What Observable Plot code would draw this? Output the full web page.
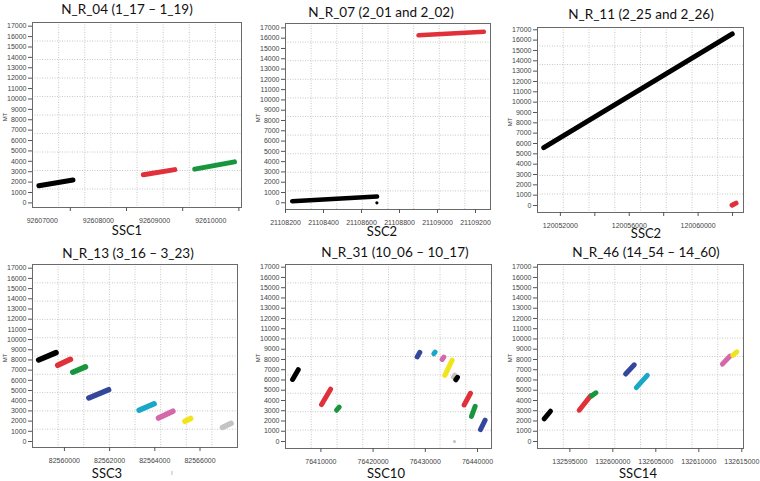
<!DOCTYPE html>
<html><head><meta charset="utf-8">
<script src="https://cdn.jsdelivr.net/npm/d3@7"></script>
<script src="https://cdn.jsdelivr.net/npm/@observablehq/plot@0.6"></script>
<style>
body{margin:0;background:#fff;}
#root{position:relative;width:760px;height:481px;overflow:hidden;font-family:Lato,"Open Sans",sans-serif;}
.pl{position:absolute;}
.ttl{position:absolute;font-size:13.5px;color:#111;white-space:nowrap;transform:translate(-50%,-50%);}
.xl{position:absolute;font-size:13px;color:#111;white-space:nowrap;transform:translate(-50%,-50%);}
.mt{position:absolute;font-family:"Liberation Sans",Arial,sans-serif;font-size:6px;color:#333;white-space:nowrap;transform:translate(-50%,-50%) rotate(-90deg);}
.art{position:absolute;font-size:7px;color:#999;}
</style></head>
<body><div id="root"></div>
<script>
// ---------- data ----------
const panelTitles = ["N_R_04 (1_17 \u2013 1_19)", "N_R_07 (2_01 and 2_02)", "N_R_11 (2_25 and 2_26)",
                     "N_R_13 (3_16 \u2013 3_23)", "N_R_31 (10_06 \u2013 10_17)", "N_R_46 (14_54 \u2013 14_60)"];
const chromosomeLabels = ["SSC1", "SSC2", "SSC2", "SSC3", "SSC10", "SSC14"];
const mtTicks = [0,1000,2000,3000,4000,5000,6000,7000,8000,9000,10000,11000,12000,13000,14000,15000,16000,17000];
const colourKeys = ["black","red","green","navy","cyan","pink","yellow","gray"];
const colourValues = ["#000000","#e0303a","#17963e","#34479a","#1aa8c8","#d468a8","#f2e41c","#c4c4c4"];

// segments: [ssc start, ssc end, mt start, mt end, colour]
const nr04Segments = [
  [92606941, 92607547, 1650, 2200, "black"],
  [92608800, 92609360, 2700, 3200, "red"],
  [92609715, 92610422, 3250, 3950, "green"]
];
const nr07Segments = [
  [21108235, 21108682, 150, 600, "black"],
  [21108900, 21109244, 16280, 16620, "red"]
];
const nr07Points = [[21108681, 0, "black"]];
const nr11Segments = [
  [120051035, 120061983, 5600, 16600, "black"],
  [120061970, 120062200, 30, 230, "red"]
];
const nr13Segments = [
  [82558860, 82559630, 8000, 8720, "black"],
  [82559704, 82560267, 7470, 8060, "red"],
  [82560370, 82560933, 6800, 7320, "green"],
  [82561081, 82561956, 4270, 5080, "navy"],
  [82563304, 82563970, 3070, 3700, "cyan"],
  [82564163, 82564800, 2300, 2970, "pink"],
  [82565333, 82565585, 1980, 2260, "yellow"],
  [82566993, 82567378, 1380, 1780, "gray"]
];
const nr31Segments = [
  [76404576, 76405660, 6050, 7000, "black"],
  [76410128, 76411850, 3600, 5100, "red"],
  [76413000, 76413510, 3050, 3350, "green"],
  [76428443, 76428953, 8250, 8700, "navy"],
  [76431634, 76431890, 8550, 8720, "cyan"],
  [76433230, 76433549, 8000, 8230, "pink"],
  [76433740, 76435143, 6450, 7930, "yellow"],
  [76435400, 76435650, 6270, 6470, "gray"],
  [76435845, 76436165, 6020, 6260, "black"],
  [76437440, 76438653, 3560, 4700, "red"],
  [76438845, 76439547, 2450, 3420, "green"],
  [76440568, 76441461, 1160, 2080, "navy"]
];
const nr31Points = [[76435590, 0, "gray"]];
const nr46Segments = [
  [132592010, 132592748, 2200, 2950, "black"],
  [132596087, 132597408, 3050, 4450, "red"],
  [132597524, 132598029, 4450, 4750, "green"],
  [132601485, 132602495, 6580, 7480, "navy"],
  [132602728, 132604010, 5260, 6450, "cyan"],
  [132612748, 132613641, 7550, 8330, "pink"],
  [132613951, 132614417, 8400, 8750, "yellow"]
];
const nr04TickLabels = [92607000, 92608000, 92609000, 92610000];
const nr04TickMarks  = [92607500, 92608500, 92609500, 92610500];
const nr07TickLabels = [21108200, 21108400, 21108600, 21108800, 21109000, 21109200];
const nr11TickLabels = [120052000, 120056000, 120060000];
const nr11TickMarks  = [120052000, 120054000, 120056000, 120058000, 120060000, 120062000];
const nr13TickLabels = [82560000, 82562000, 82564000, 82566000];
const nr31TickLabels = [76410000, 76420000, 76430000, 76440000];
const nr46TickLabels = [132595000, 132600000, 132605000, 132610000, 132615000];

// ---------- layout ----------
const colourOf = c => colourValues[colourKeys.indexOf(c)];
const toRows = segs => segs.map(([x1, x2, y1, y2, c]) => ({x1, x2, y1, y2, c}));
const toPts = pts => pts.map(([x, y, c]) => ({x, y, c}));
const panels = [
  {segs: nr04Segments, pts: [], labels: nr04TickLabels, marks: nr04TickMarks,
   fx: [32, 241], fy: [22, 207], xd: [92606827, 92610547], yd: [-443, 17356], t: [127, 9], xl: [127, 230], lw: 5},
  {segs: nr07Segments, pts: nr07Points, labels: nr07TickLabels, marks: nr07TickLabels,
   fx: [285, 490], fy: [23, 209], xd: [21108200, 21109279], yd: [-652, 17428], t: [381, 12], xl: [382, 231], lw: 4.5},
  {segs: nr11Segments, pts: [], labels: nr11TickLabels, marks: nr11TickMarks,
   fx: [537, 743], fy: [27, 212], xd: [120050671, 120062636], yd: [-677, 17222], t: [641, 14], xl: [646, 233], lw: 5},
  {segs: nr13Segments, pts: [], labels: nr13TickLabels, marks: nr13TickLabels,
   fx: [32, 237], fy: [264, 447], xd: [82558588, 82567659], yd: [-589, 17363], t: [128, 253], xl: [107, 473], lw: 5.5},
  {segs: nr31Segments, pts: nr31Points, labels: nr31TickLabels, marks: nr31TickLabels,
   fx: [285, 491], fy: [264, 448], xd: [76403218, 76442682], yd: [-683, 17263], t: [395, 252], xl: [386, 473], lw: 5},
  {segs: nr46Segments, pts: [], labels: nr46TickLabels, marks: nr46TickLabels,
   fx: [537, 743], fy: [264, 448], xd: [132591237, 132615198], yd: [-683, 17263], t: [646, 252], xl: [638, 473], lw: 5}
];

const root = document.getElementById("root");
const ML = 30, MR = 6, MT = 4, MB = 24;
const fmt = d => String(d);

panels.forEach((p, i) => {
  const w = p.fx[1] - p.fx[0], h = p.fy[1] - p.fy[0];
  const gx = d3.range(1, 8).map(k => p.xd[0] + (p.xd[1] - p.xd[0]) * k / 8);
  const gy = d3.range(1, 10).map(k => p.yd[0] + (p.yd[1] - p.yd[0]) * k / 10);
  const svg = Plot.plot({
    width: w + ML + MR, height: h + MT + MB,
    marginLeft: ML, marginRight: MR, marginTop: MT, marginBottom: MB,
    x: {domain: p.xd},
    y: {domain: p.yd},
    style: {fontFamily: "'Liberation Sans', Arial, sans-serif", fontSize: "7px", color: "#444", background: "transparent", overflow: "visible"},
    marks: [
      Plot.gridX(gx, {stroke: "#c8c8c8", strokeOpacity: 1, strokeDasharray: "1,1.5"}),
      Plot.gridY(gy, {stroke: "#c8c8c8", strokeOpacity: 1, strokeDasharray: "1,1.5"}),
      Plot.frame({stroke: "#6a6a6a"}),
      Plot.axisY(mtTicks, {tickSize: 4, tickPadding: 2, tickFormat: fmt, label: null, stroke: "#555"}),
      Plot.axisX(p.marks, {tickSize: 4, tickFormat: () => "", label: null, stroke: "#555"}),
      Plot.axisX(p.labels, {tickSize: 0, tickPadding: 11, tickFormat: fmt, label: null}),
      Plot.link(toRows(p.segs), {x1: "x1", y1: "y1", x2: "x2", y2: "y2", stroke: d => colourOf(d.c), strokeWidth: p.lw, strokeLinecap: "round"}),
      Plot.dot(toPts(p.pts), {x: "x", y: "y", fill: d => colourOf(d.c), r: 1.6})
    ]
  });
  svg.classList.add("pl");
  svg.style.left = (p.fx[0] - ML) + "px";
  svg.style.top = (p.fy[0] - MT) + "px";
  root.appendChild(svg);

  const t = document.createElement("div");
  t.className = "ttl"; t.textContent = panelTitles[i];
  t.style.left = p.t[0] + "px"; t.style.top = p.t[1] + "px";
  root.appendChild(t);

  const xl = document.createElement("div");
  xl.className = "xl"; xl.textContent = chromosomeLabels[i];
  xl.style.left = p.xl[0] + "px"; xl.style.top = p.xl[1] + "px";
  root.appendChild(xl);

  const mt = document.createElement("div");
  mt.className = "mt"; mt.textContent = "MT";
  mt.style.left = (p.fx[0] - 27) + "px"; mt.style.top = ((p.fy[0] + p.fy[1]) / 2 + 2) + "px";
  root.appendChild(mt);
});

const art = document.createElement("div");
art.className = "art"; art.textContent = "\u0131";
art.style.left = "171px"; art.style.top = "468px";
root.appendChild(art);
</script>
</body></html>
